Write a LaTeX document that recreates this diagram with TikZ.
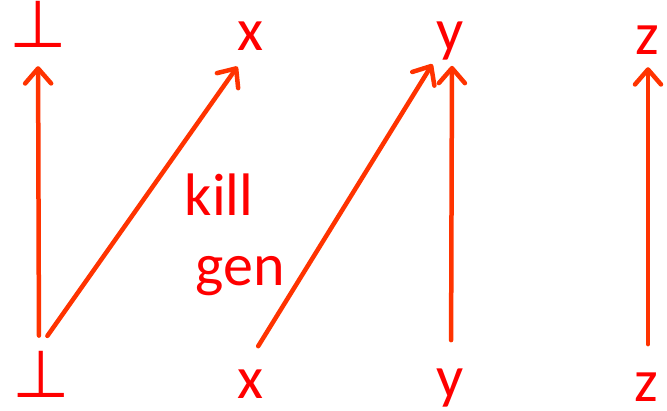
\documentclass[tikz,border=0pt]{standalone}
\usepackage{fontspec}
\setmainfont{Carlito}
\newfontfamily\symfont{DejaVu Sans}
\usepackage{xcolor}
\usetikzlibrary{arrows.meta}

\definecolor{labelred}{RGB}{255,0,0}
\definecolor{flowred}{RGB}{255,51,0}

\begin{document}
\begin{tikzpicture}[
    x=1pt, y=-1pt,
    var/.style={text=labelred, inner sep=0pt, anchor=base,
      font=\fontsize{60}{60}\selectfont},
    bottom/.style={var, font=\symfont\fontsize{66}{66}\selectfont},
    flow/.style={draw=flowred, line width=4.5pt, line cap=round,
      -{Straight Barb[length=15pt, width=26pt, round]}}
]

\useasboundingbox (0,0) rectangle (667,410);

% -------------------------------------------------
% Facts after the statement
% -------------------------------------------------

\node[bottom] (tb) at (38,47)  {⊥};
\node[var] (tx) at (250,50) {x};
\node[var] (ty) at (450,50) {y};
\node[var] (tz) at (647,54) {z};

% -------------------------------------------------
% Facts before the statement
% -------------------------------------------------

\node[bottom] (bb) at (41,397)  {⊥};
\node[var] (bx) at (250,398) {x};
\node[var] (by) at (450,397) {y};
\node[var] (bz) at (646,401) {z};

% -------------------------------------------------
% Transfer
% -------------------------------------------------

\draw[flow, shorten <=15pt, shorten >=19pt]
  ([xshift=-2pt]bb.north) -- (tb.south);

\draw[flow, shorten <=18pt, shorten >=20pt]
  ([xshift=-4pt]bb.north) -- ([xshift=-1pt]tx.south);

\draw[flow, shorten <=27pt, shorten >=5pt]
  ([xshift=-6pt]bx.north) -- ([xshift=-15pt]ty.south);

\draw[flow, shorten <=28pt, shorten >=6pt]
  ([xshift=1pt]by.north) -- ([xshift=2pt]ty.south);

\draw[flow, shorten <=28pt, shorten >=13pt]
  ([xshift=2pt]bz.north) -- ([xshift=1pt]tz.south);

% -------------------------------------------------
% Labels
% -------------------------------------------------

\node[var] (kill) at (219,215) {kill};
\node[var] (gen)  at (240,285) {gen};

\end{tikzpicture}
\end{document}
